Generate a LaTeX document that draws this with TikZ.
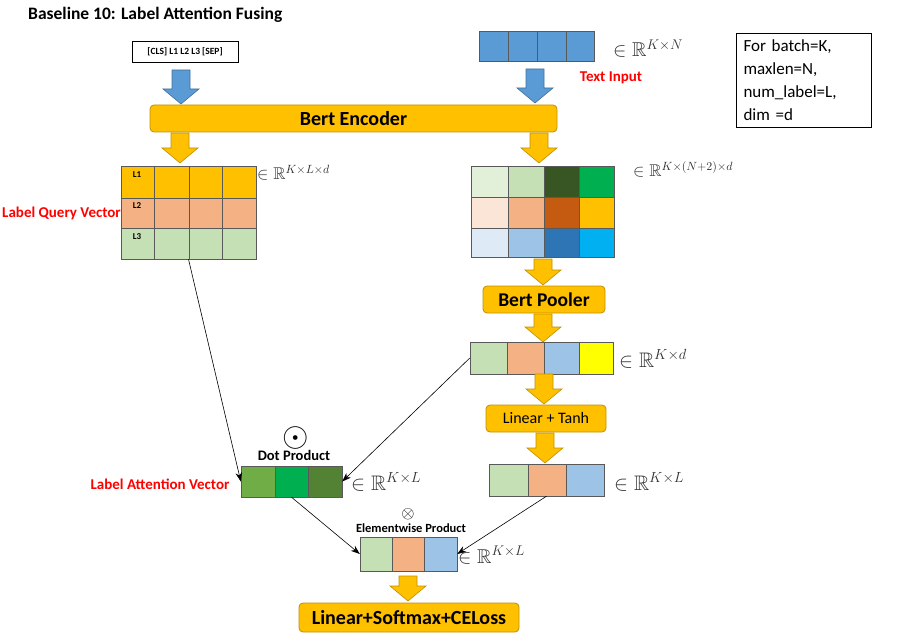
\RequirePackage{fix-cm}
\documentclass[tikz,border=0pt]{standalone}
\usepackage{fontspec}
\setmainfont{Carlito}
\usepackage{amssymb}
\usetikzlibrary{arrows.meta,fit}

% 颜色
\definecolor{gold}{HTML}{FFC000}
\definecolor{goldedge}{HTML}{BF9000}
\definecolor{tokblue}{HTML}{5B9BD5}
\definecolor{blueedge}{HTML}{41719C}
\definecolor{peach}{HTML}{F4B183}
\definecolor{lgreen}{HTML}{C5E0B4}
\definecolor{pgreen}{HTML}{E2F0D9}
\definecolor{dgreen}{HTML}{375623}
\definecolor{vgreen}{HTML}{00B050}
\definecolor{ppeach}{HTML}{FBE5D6}
\definecolor{rust}{HTML}{C55A11}
\definecolor{pblue}{HTML}{DEEBF7}
\definecolor{lblue}{HTML}{9DC3E6}
\definecolor{mblue}{HTML}{2E75B6}
\definecolor{cyanb}{HTML}{00B0F0}
\definecolor{yel}{HTML}{FFFF00}
\definecolor{agreen}{HTML}{70AD47}
\definecolor{ogreen}{HTML}{548235}

\newcommand{\fsize}[1]{\fontsize{#1}{#1}\selectfont}

% 粗箭头: 样式, 中心 x, 顶端 y, 尖端 y
\newcommand{\fatarrow}[4]{%
  \filldraw[#1] (#2-9,#3) -- (#2+9,#3) -- (#2+9,#4-15) -- (#2+18,#4-15)
    -- (#2,#4) -- (#2-18,#4-15) -- (#2-9,#4-15) -- cycle;}

\begin{document}
\begin{tikzpicture}[x=1pt,y=-1pt,
    cell/.style={draw=black!65, line width=0.6pt},
    layer/.style={draw=goldedge, fill=gold, rounded corners=4pt, line width=0.8pt, inner sep=0pt},
    fatorange/.style={draw=goldedge, fill=gold, line width=0.6pt},
    fatblue/.style={draw=blueedge, fill=tokblue, line width=0.6pt},
    dim/.style={text=black!80, inner sep=0pt, anchor=base west},
    redlabel/.style={text=red, font=\bfseries\fsize{15}},
    link/.style={-{Stealth[length=9pt,width=6.5pt]}, line width=0.6pt}]

    \useasboundingbox (0,0) rectangle (904,644);

    % 标题
    \node[anchor=west, inner sep=0pt, font=\bfseries\fsize{17.5}] (title) at (28,15) {Baseline 10: Label Attention Fusing};

    % 说明框
    \node[draw, line width=0.8pt, minimum width=135pt, minimum height=94pt, text width=120pt,
          align=left, font=\fontsize{17}{23}\selectfont, inner sep=6pt] (note) at (803.5,80)
          {For batch=K,\\maxlen=N,\\num\_label=L,\\dim =d};

    % 标签输入框
    \node[draw, line width=0.7pt, minimum width=106pt, minimum height=21pt, font=\bfseries\fsize{9.5}] (cls) at (185,51.5) {[CLS] L1 L2 L3 [SEP]};

    % 文本输入
    \foreach \xa/\xb in {479/508,508/537,537/566,566/594}
        \filldraw[cell, fill=tokblue] (\xa,31) rectangle (\xb,61); % 词向量格子
    \node[fit={(479,31) (594,61)}, inner sep=0pt] (tokens) {};
    \node[dim, font=\fsize{20}] (dimtok) at (613,57) {$\in\mathbb{R}^{K\times N}$};
    \node[redlabel] (textin) at (611,78) {Text Input};

    % 蓝色箭头
    \fatarrow{fatblue}{181}{70}{104}
    \fatarrow{fatblue}{535}{69}{103}

    % Bert 编码器
    \node[layer, minimum width=407pt, minimum height=27pt, font=\bfseries\fsize{20}] (enc) at (353.5,118.5) {Bert Encoder};
    \fatarrow{fatorange}{180}{133}{163}
    \fatarrow{fatorange}{539}{133}{163}

    % 标签查询矩阵
    \foreach \ya/\yb/\col in {166/198/gold,198/228/peach,228/259/lgreen}
        \foreach \xa/\xb in {121/154,154/189,189/222,222/256}
            \filldraw[cell, fill=\col] (\xa,\ya) rectangle (\xb,\yb);
    \node[fit={(121,166) (256,259)}, inner sep=0pt] (query) {};
    \node[font=\bfseries\fsize{9}] at (137,175) {L1};
    \node[font=\bfseries\fsize{9}] at (137,206) {L2};
    \node[font=\bfseries\fsize{9}] at (137,237) {L3};
    \node[dim, font=\fsize{17}] (dimq) at (257,180) {$\in\mathbb{R}^{K\times L\times d}$};
    \node[redlabel, anchor=east, inner sep=0pt] (qlabel) at (121,213) {Label Query Vector};

    % 文本隐状态矩阵
    \foreach \xa/\xb/\ya/\yb/\col in {471/508/166/197/pgreen, 508/544/166/197/lgreen, 544/579/166/197/dgreen, 579/614/166/197/vgreen,
                                      471/508/197/228/ppeach, 508/544/197/228/peach,  544/579/197/228/rust,   579/614/197/228/gold,
                                      471/508/228/257/pblue,  508/544/228/257/lblue,  544/579/228/257/mblue,  579/614/228/257/cyanb}
        \filldraw[cell, fill=\col] (\xa,\ya) rectangle (\xb,\yb);
    \node[fit={(471,166) (614,257)}, inner sep=0pt] (hidden) {};
    \node[dim, font=\fsize{17}] (dimh) at (633,177) {$\in\mathbb{R}^{K\times(N+2)\times d}$};

    % Bert Pooler
    \fatarrow{fatorange}{543}{259}{285}
    \node[layer, minimum width=122pt, minimum height=27pt, font=\bfseries\fsize{19.5}] (pooler) at (544,299.5) {Bert Pooler};
    \fatarrow{fatorange}{543}{314}{342}

    % 池化向量
    \foreach \xa/\xb/\col in {470/507/lgreen,507/544/peach,544/579/lblue,579/613/yel}
        \filldraw[cell, fill=\col] (\xa,342) rectangle (\xb,374);
    \node[fit={(470,342) (613,374)}, inner sep=0pt] (pool) {};
    \node[dim, font=\fsize{21}] (dimp) at (619,367) {$\in\mathbb{R}^{K\times d}$};

    % Linear + Tanh
    \fatarrow{fatorange}{544}{374}{404}
    \node[layer, minimum width=120pt, minimum height=27pt, font=\fsize{16}] (lintanh) at (546,418.5) {Linear + Tanh};
    \fatarrow{fatorange}{545}{433}{463}

    % Tanh 输出向量
    \foreach \xa/\xb/\col in {489/528/lgreen,528/566/peach,566/604/lblue}
        \filldraw[cell, fill=\col] (\xa,464) rectangle (\xb,496);
    \node[fit={(489,464) (604,496)}, inner sep=0pt] (tanhv) {};
    \node[dim, font=\fsize{21}] (dimt) at (614,490) {$\in\mathbb{R}^{K\times L}$};

    % 点积向量
    \node[font=\fsize{34}] (odot) at (296,438) {$\odot$};
    \node[font=\bfseries\fsize{14.5}] (dotlabel) at (294,455) {Dot Product};
    \foreach \xa/\xb/\col in {241/275/agreen,275/308/vgreen,308/342/ogreen}
        \filldraw[cell, fill=\col] (\xa,466) rectangle (\xb,497);
    \node[fit={(241,466) (342,497)}, inner sep=0pt] (dotv) {};
    \node[dim, font=\fsize{21}] (dimd) at (351,490) {$\in\mathbb{R}^{K\times L}$};
    \node[redlabel] (alabel) at (160,484) {Label Attention Vector};

    % 逐元素乘积向量
    \node[font=\fsize{17}] (otimes) at (408,514) {$\otimes$};
    \node[font=\bfseries\fsize{12.5}] (elemlabel) at (411,528) {Elementwise Product};
    \foreach \xa/\xb/\col in {360/392/lgreen,392/424/peach,424/457/lblue}
        \filldraw[cell, fill=\col] (\xa,537) rectangle (\xb,571);
    \node[fit={(360,537) (457,571)}, inner sep=0pt] (elem) {};
    \node[dim, font=\fsize{20}] (dime) at (458,563) {$\in\mathbb{R}^{K\times L}$};

    % 输出层
    \fatarrow{fatorange}{408}{576}{601}
    \node[layer, minimum width=220pt, minimum height=29pt, font=\bfseries\fsize{20}] (loss) at (409,617.5) {Linear+Softmax+CELoss};

    % 连线
    \draw[link] (query.south) -- (dotv.west);
    \draw[link] (pool.west) -- (dotv.east);
    \draw[link] (dotv.south) -- (elem.west);
    \draw[link] (tanhv.south) -- (elem.east);

\end{tikzpicture}
\end{document}
